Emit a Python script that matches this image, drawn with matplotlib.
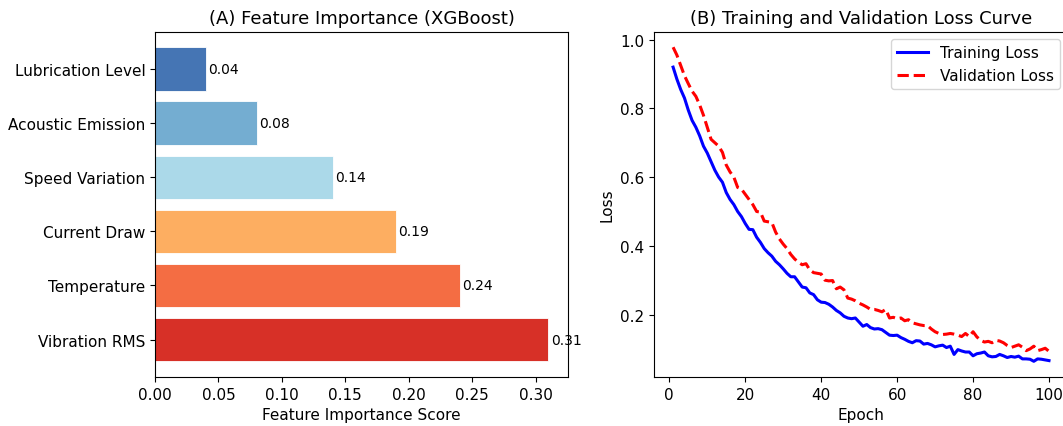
import matplotlib
matplotlib.use("Agg")
import matplotlib.pyplot as plt

features = ["Vibration RMS", "Temperature", "Current Draw",
            "Speed Variation", "Acoustic Emission", "Lubrication Level"]
importance = [0.31, 0.24, 0.19, 0.14, 0.08, 0.04]
bar_colors = ["#d73027", "#f46d43", "#fdae61", "#abd9e9", "#74add1", "#4575b4"]

epochs = list(range(1, 101))
train_loss = [
    0.920, 0.885, 0.855, 0.830, 0.795, 0.765, 0.745, 0.720, 0.690, 0.670,
    0.645, 0.620, 0.600, 0.585, 0.555, 0.535, 0.520, 0.500, 0.485, 0.465,
    0.448, 0.447, 0.425, 0.410, 0.392, 0.380, 0.370, 0.355, 0.345, 0.333,
    0.320, 0.310, 0.310, 0.295, 0.280, 0.278, 0.263, 0.258, 0.243, 0.236,
    0.235, 0.230, 0.222, 0.212, 0.205, 0.195, 0.190, 0.188, 0.190, 0.178,
    0.166, 0.171, 0.162, 0.158, 0.159, 0.156, 0.148, 0.140, 0.139, 0.140,
    0.133, 0.128, 0.122, 0.118, 0.124, 0.123, 0.114, 0.116, 0.112, 0.106,
    0.109, 0.111, 0.104, 0.108, 0.084, 0.098, 0.094, 0.091, 0.091, 0.080,
    0.086, 0.088, 0.091, 0.080, 0.077, 0.078, 0.084, 0.080, 0.075, 0.078,
    0.076, 0.079, 0.071, 0.071, 0.070, 0.064, 0.071, 0.070, 0.068, 0.066,
]
val_loss = [
    0.978, 0.955, 0.925, 0.895, 0.872, 0.850, 0.835, 0.810, 0.780, 0.745,
    0.710, 0.700, 0.690, 0.672, 0.635, 0.615, 0.600, 0.570, 0.565, 0.550,
    0.535, 0.520, 0.500, 0.498, 0.472, 0.470, 0.468, 0.440, 0.420, 0.405,
    0.392, 0.375, 0.362, 0.352, 0.345, 0.348, 0.330, 0.322, 0.320, 0.318,
    0.300, 0.298, 0.299, 0.275, 0.280, 0.272, 0.248, 0.245, 0.240, 0.233,
    0.228, 0.222, 0.215, 0.215, 0.212, 0.208, 0.215, 0.190, 0.192, 0.188,
    0.190, 0.182, 0.185, 0.176, 0.173, 0.170, 0.168, 0.168, 0.158, 0.150,
    0.145, 0.142, 0.143, 0.145, 0.143, 0.140, 0.136, 0.145, 0.136, 0.150,
    0.135, 0.125, 0.120, 0.122, 0.118, 0.125, 0.123, 0.118, 0.110, 0.104,
    0.108, 0.112, 0.105, 0.095, 0.100, 0.108, 0.095, 0.098, 0.102, 0.093,
]

fig = plt.figure(figsize=(10.63, 4.27), dpi=100)
ax1 = fig.add_axes([155 / 1063, 1 - 378 / 427, 413 / 1063, 345.5 / 427])
ax2 = fig.add_axes([654.3 / 1063, 1 - 378 / 427, 413.5 / 1063, 345.5 / 427])

# (A) feature importance
bars = ax1.barh(features, importance, color=bar_colors, height=0.8,
                edgecolor="white", linewidth=0.6)
for b, v in zip(bars, importance):
    ax1.text(b.get_width() + 0.002, b.get_y() + b.get_height() / 2, f"{v:.2f}",
             va="center", ha="left", fontsize=10)
ax1.set_title("(A) Feature Importance (XGBoost)", fontsize=13)
ax1.set_xlabel("Feature Importance Score", fontsize=11)
ax1.tick_params(labelsize=11)

# (B) loss curves
ax2.plot(epochs, train_loss, "b-", linewidth=2.2, label="Training Loss")
ax2.plot(epochs, val_loss, "r--", linewidth=2.2, label="Validation Loss")
ax2.set_title("(B) Training and Validation Loss Curve", fontsize=13)
ax2.set_xlabel("Epoch", fontsize=11)
ax2.set_ylabel("Loss", fontsize=11)
ax2.set_xticks([0, 20, 40, 60, 80, 100])
ax2.tick_params(labelsize=11)
ax2.legend(loc="upper right", fontsize=11)

fig.savefig("out.png", dpi=100)
